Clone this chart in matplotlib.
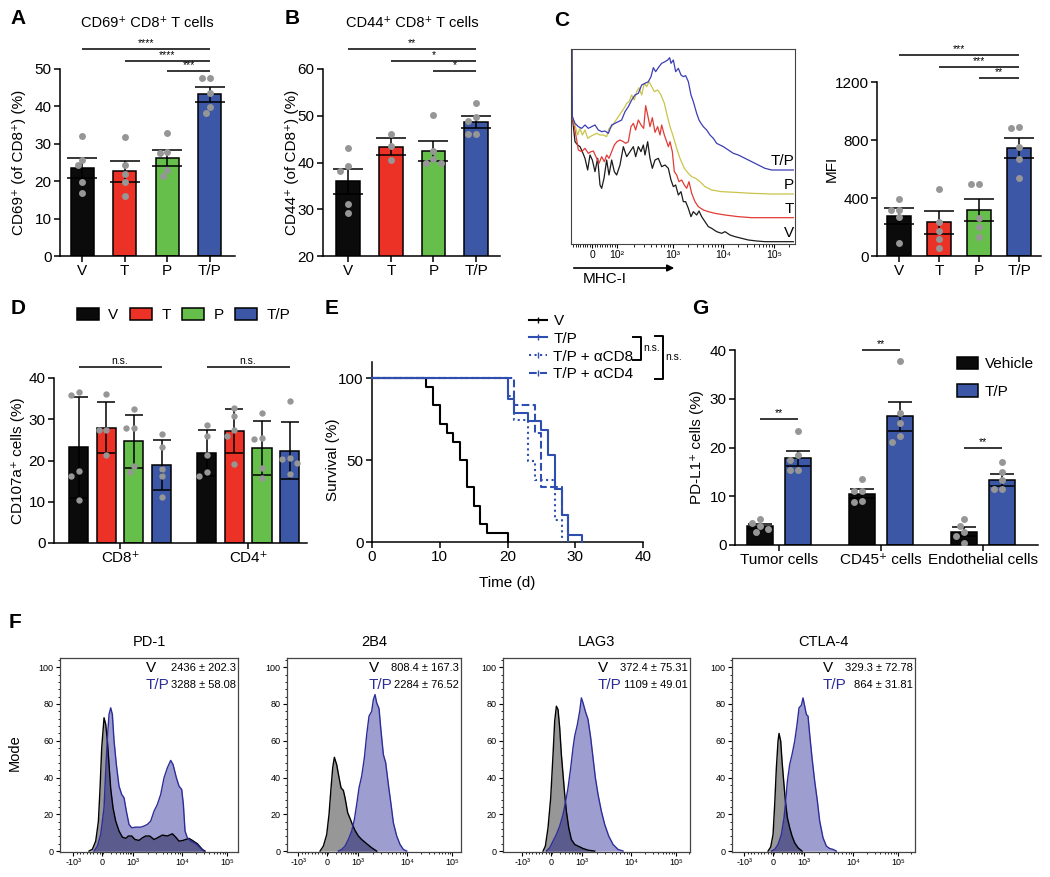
import numpy as np
import matplotlib
matplotlib.use('Agg')
import matplotlib.pyplot as plt
from matplotlib.lines import Line2D
from matplotlib.patches import Patch
from matplotlib.ticker import MultipleLocator, FixedLocator

plt.rcParams['font.family'] = ['Liberation Sans', 'DejaVu Sans']
plt.rcParams['axes.linewidth'] = 1.1

# ======================= DATA =======================
GROUPS = ['V', 'T', 'P', 'T/P']
GROUP_COLORS = ['#0b0b0b', '#ec3226', '#66bf4a', '#3b57a6']
DOT_COLOR = '#969696'

# Panel A
A_MEAN = [23.5, 22.6, 26.2, 43.2]
A_SEM = [2.7, 2.7, 2.1, 2.0]
A_POINTS = [[32.0, 25.8, 24.2, 19.8, 16.9],
            [31.9, 24.2, 21.9, 19.9, 16.0],
            [32.8, 27.7, 27.5, 23.0, 21.4],
            [47.5, 47.5, 43.7, 39.8, 38.3]]
A_SIG = ['****', '****', '***']

# Panel B
B_MEAN = [36.0, 43.4, 42.5, 48.6]
B_SEM = [2.7, 1.8, 2.1, 1.3]
B_POINTS = [[43.0, 39.3, 38.2, 31.2, 29.3],
            [46.2, 43.5, 40.5],
            [50.2, 42.5, 40.8, 40.0, 40.0],
            [52.8, 49.8, 48.9, 46.0, 46.0]]
B_SIG = ['**', '*', '*']

# Panel C (MFI bars)
MFI_MEAN = [275, 232, 316, 745]
MFI_SEM = [53, 80, 76, 69]
MFI_POINTS = [[392, 316, 316, 266, 87],
              [461, 236, 174, 115, 53],
              [498, 498, 259, 202, 133],
              [888, 883, 752, 670, 539]]
MFI_SIG = ['***', '***', '**']

# Panel C (MHC-I offset histograms; x = display channel, y = counts)
C_LABELS = ['V', 'T', 'P', 'T/P']
C_COLORS = ['#1b1b1b', '#e23b35', '#c9c44b', '#3b3db5']
C_V_X = [0, 4, 12, 20, 27, 34, 42, 50, 57, 64, 72, 80, 87, 92, 99, 107, 114, 122, 130, 137, 147,
         157, 167, 177, 187, 194, 202, 210, 217, 222, 230, 237, 244, 252, 262, 272, 282, 292, 300,
         307, 314, 322, 330, 337, 344, 352, 360, 367, 377, 384, 392, 402, 412, 422, 437, 452, 462,
         477, 492, 512, 532, 557, 582, 622, 667]
C_V_N = [1000, 375, 300, 290, 285, 270, 250, 215, 260, 245, 210, 250, 170, 160, 190, 245, 200, 245,
         210, 200, 230, 285, 255, 270, 285, 255, 285, 270, 290, 260, 300, 250, 220, 245, 250, 225,
         230, 220, 185, 165, 170, 140, 150, 120, 120, 100, 75, 90, 80, 92, 75, 60, 45, 40, 30, 25,
         30, 20, 15, 10, 5, 2, 0, 0, 0]
C_T_X = [0, 4, 12, 22, 32, 42, 52, 60, 67, 77, 84, 92, 100, 107, 114, 122, 130, 138, 147, 157, 164,
         172, 180, 187, 194, 202, 210, 218, 224, 230, 237, 244, 252, 260, 267, 272, 280, 287, 292,
         297, 304, 310, 317, 324, 332, 340, 347, 354, 362, 372, 382, 397, 412, 432, 462, 502, 542,
         602, 667]
C_T_N = [1000, 303, 263, 203, 198, 208, 193, 198, 200, 178, 163, 183, 168, 188, 178, 198, 218, 228,
         233, 228, 223, 228, 273, 283, 263, 293, 278, 268, 336, 308, 273, 300, 256, 273, 248, 278,
         248, 228, 213, 228, 198, 138, 128, 108, 113, 98, 88, 108, 73, 48, 33, 23, 18, 13, 8, 3,
         0, 0, 0]
C_P_X = [0, 4, 12, 20, 27, 34, 42, 50, 57, 67, 77, 87, 97, 107, 114, 122, 132, 142, 152, 162, 167,
         174, 182, 190, 197, 204, 212, 220, 227, 234, 242, 250, 260, 270, 280, 287, 297, 307, 317,
         327, 340, 352, 362, 374, 387, 402, 422, 452, 492, 542, 602, 667]
C_P_N = [1000, 232, 207, 177, 197, 177, 192, 167, 172, 177, 182, 177, 177, 172, 197, 202, 217, 232,
         247, 262, 272, 277, 297, 282, 307, 319, 297, 332, 322, 337, 322, 307, 312, 297, 272, 242,
         202, 172, 137, 107, 77, 62, 52, 47, 37, 22, 12, 7, 5, 2, 0, 0]
C_TP_X = [0, 4, 12, 22, 32, 42, 52, 62, 72, 82, 92, 102, 112, 122, 132, 142, 152, 162, 172, 182,
          192, 202, 212, 222, 232, 240, 247, 254, 264, 272, 282, 290, 296, 300, 307, 314, 322, 330,
          337, 344, 352, 360, 367, 377, 384, 390, 397, 407, 417, 427, 437, 447, 457, 472, 487, 502,
          522, 542, 562, 582, 602, 667]
C_TP_N = [1000, 160, 140, 130, 125, 135, 125, 130, 135, 120, 115, 117, 110, 135, 140, 145, 150, 175,
          190, 210, 225, 230, 255, 260, 265, 280, 307, 295, 310, 320, 325, 330, 337, 320, 330, 295,
          305, 285, 280, 283, 265, 225, 205, 170, 150, 140, 130, 120, 105, 95, 80, 75, 70, 60, 50,
          45, 35, 25, 15, 5, 0, 0]
C_TICK_LABELS = ['0', '10²', '10³', '10⁴', '10⁵']

# Panel D
D_CELLS = ['CD8⁺', 'CD4⁺']
D_MEAN = [[23.2, 28.0, 24.7, 18.9], [21.8, 27.1, 23.0, 22.4]]
D_SD = [[12.3, 6.2, 6.4, 6.0], [5.5, 5.3, 6.5, 6.9]]
D_POINTS = [[[36.7, 35.9, 17.5, 16.3, 10.4], [36.2, 27.3, 27.3, 21.4],
             [32.4, 27.9, 27.8, 18.7, 17.3], [26.4, 23.2, 18.0, 16.2, 11.2]],
            [[28.7, 25.9, 21.4, 17.3, 16.3], [32.7, 30.8, 27.3, 26.0, 19.1],
             [31.4, 25.5, 25.3, 18.3, 15.7], [34.4, 20.6, 20.3, 19.5, 16.7]]]

# Panel E (Kaplan-Meier)
E_LABELS = ['V', 'T/P', 'T/P + αCD8', 'T/P + αCD4']
E_V_T = [0, 8, 9, 10, 11, 12, 13, 14, 15, 16, 17, 20]
E_V_S = [100, 94.4, 83.3, 72.2, 66.7, 61.1, 50.0, 33.3, 22.2, 11.1, 5.6, 0]
E_TP_T = [0, 20, 21, 23, 25, 26, 27, 28, 29, 31]
E_TP_S = [100, 87.5, 78.7, 73.6, 68.5, 52.8, 32.5, 16.3, 4.5, 0]
E_CD8_T = [0, 20, 21, 23, 24, 27, 28]
E_CD8_S = [100, 88.9, 74.6, 49.2, 37.6, 13.6, 0]
E_CD4_T = [0, 21, 24, 25, 28, 29]
E_CD4_S = [100, 83.3, 66.7, 33.3, 16.7, 0]

# Panel G
G_CELLS = ['Tumor cells', 'CD45⁺ cells', 'Endothelial cells']
G_LABELS = ['Vehicle', 'T/P']
G_COLORS = ['#0b0b0b', '#3b57a6']
G_MEAN = [[3.8, 10.5, 2.7], [17.8, 26.4, 13.4]]
G_SEM = [[0.5, 0.9, 0.9], [1.5, 3.0, 1.2]]
G_POINTS = [[[5.3, 4.5, 3.9, 3.2, 2.7], [13.6, 11.0, 11.0, 9.1, 8.9], [5.3, 4.0, 2.7, 1.8, 0.5]],
            [[23.3, 18.5, 17.5, 15.4, 15.4], [37.7, 27.1, 25.1, 22.3, 21.2],
             [17.1, 14.9, 13.4, 11.4, 11.4]]]
G_SIG = ['**', '**', '**']

# Panel F (flow histograms; x = display channel relative to 0, y = % of mode)
F_MARKERS = ['PD-1', '2B4', 'LAG3', 'CTLA-4']
F_STATS_V = ['2436 ± 202.3', '808.4 ± 167.3', '372.4 ± 75.31', '329.3 ± 72.78']
F_STATS_TP = ['3288 ± 58.08', '2284 ± 76.52', '1109 ± 49.01', '864 ± 31.81']
F_TICK_LABELS = ['-10³', '0', '10³', '10⁴', '10⁵']
PD1_V_X = [-38, -28, -18, -10, -5, 0, 7, 12, 17, 22, 27, 34, 42, 52, 62, 72, 80, 90, 100, 112, 122,
           132, 144, 157, 167, 182, 197, 212, 222, 232, 244, 262, 272, 287, 302, 310]
PD1_V_Y = [0, 1, 5.4, 16, 34, 56, 72.5, 69, 60, 47, 34, 23.5, 16.3, 10.9, 7.6, 6.9, 8.2, 8.2, 6.3,
           5.8, 7.2, 8.2, 8.2, 6.3, 7.2, 8.7, 8.2, 9.4, 7.6, 5.4, 5.8, 6.9, 5.8, 4, 0.9, 0]
PD1_TP_X = [-23, -13, -3, 7, 12, 17, 22, 27, 32, 37, 44, 52, 60, 67, 74, 82, 90, 102, 117, 127, 137,
            147, 157, 167, 177, 187, 197, 207, 214, 224, 232, 240, 245, 250, 257, 267, 277, 287,
            297, 307]
PD1_TP_Y = [0, 2.7, 9, 23.5, 43.5, 61.6, 74.3, 77.9, 74.3, 60, 47, 35.3, 30.8, 29, 21.7, 14.5, 12.7,
            13, 13, 13.6, 14.5, 16.3, 21.7, 25.4, 30.8, 39.9, 45.3, 49.3, 47.1, 39.9, 35.3, 33.5,
            25.4, 10.9, 7.2, 5.4, 4.5, 3.3, 1.4, 0]
B4_V_X = [-20, -10, 0, 7, 13, 18, 23, 30, 37, 43, 50, 55, 63, 70, 77, 85, 95, 105, 120, 135, 150]
B4_V_Y = [0, 2.7, 9, 20, 34.4, 45.3, 51, 47, 40, 34.4, 33, 29, 20.8, 17.8, 14.5, 11.2, 8.2, 6.3, 4,
          1.8, 0]
B4_TP_X = [35, 45, 55, 65, 75, 83, 90, 97, 105, 113, 120, 127, 135, 140, 145, 150, 157, 163, 170,
           177, 185, 193, 200, 210, 220, 230, 240]
B4_TP_Y = [0, 0.9, 2.7, 6.3, 10.9, 17.2, 25.4, 34.4, 40.8, 50.7, 63.4, 73.4, 76, 82.4, 85.1, 80.6,
           77.5, 65.2, 52.5, 48, 36.2, 25.4, 15.4, 8.2, 3.6, 0.9, 0]
LAG3_V_X = [-23, -16, -8, 0, 7, 12, 17, 22, 27, 32, 37, 42, 47, 54, 62, 72, 82, 97, 112, 132]
LAG3_V_Y = [0, 2.7, 12.7, 29, 52.5, 70.7, 78.8, 77, 67, 52.5, 41.7, 30.8, 21.7, 12.7, 6.3, 3.6, 2.7,
            1.4, 0.5, 0]
LAG3_TP_X = [-13, -3, 7, 17, 27, 37, 45, 52, 60, 67, 72, 80, 87, 92, 97, 104, 112, 120, 127, 134,
             142, 152, 162, 174, 187, 202, 217]
LAG3_TP_Y = [0, 1.8, 5.4, 9, 13.6, 19.9, 27.2, 34.4, 45.3, 56.2, 62.5, 68.8, 76, 83.3, 80.6, 76,
             71.6, 61.6, 50.7, 39.9, 30.8, 21.7, 14.5, 8.2, 3.6, 0.9, 0]
CTLA_V_X = [-14, -6, 1, 6, 11, 16, 19, 24, 28, 33, 38, 44, 51, 58, 66, 76, 88]
CTLA_V_Y = [0, 2.2, 9, 25.4, 45.3, 59.8, 64, 59.8, 48.9, 38, 27.2, 18.1, 12.7, 8.2, 4.5, 1.8, 0]
CTLA_TP_X = [-4, 6, 16, 26, 34, 39, 44, 51, 58, 66, 73, 79, 86, 91, 96, 101, 106, 111, 118, 126, 134,
             141, 151, 161, 171, 181, 191]
CTLA_TP_Y = [0, 0.9, 3.6, 9, 18.1, 27.2, 38, 47.1, 52.5, 59.8, 68.8, 77.9, 79.3, 83.3, 78.8, 74.3,
             73.4, 63.4, 50.7, 38, 27.2, 16.3, 7.2, 2.7, 1.4, 0.9, 0]

# ======================= FIGURE =======================
W, H = 1050, 877
fig = plt.figure(figsize=(W / 100, H / 100), dpi=100)


def fx(x):
    return x / W


def fy(y):
    return 1 - y / H


def add_ax(l, t, r, b):
    return fig.add_axes([l / W, 1 - b / H, (r - l) / W, (b - t) / H])


def style(ax, fs=11):
    for s in ['top', 'right']:
        ax.spines[s].set_visible(False)
    ax.tick_params(direction='out', length=4, width=1.1, labelsize=fs, pad=2)


def swarm(vals, px_x, px_y, dot=7.0):
    placed, offs = [], []
    for v in vals:
        o = 0.0
        for k in [0, -1, 1, -2, 2, -3, 3]:
            o = k * 0.55 * dot
            if all(np.hypot(o - po, (v - pv) * px_y) >= 0.95 * dot for po, pv in placed):
                break
        placed.append((o, v))
        offs.append(o / px_x)
    return np.array(offs)


def bars(ax, xs, means, errs, pts, colors, width, cap, px_x, px_y, dot_s=25):
    ax.bar(xs, means, width, color=colors, edgecolor='black', linewidth=1.1, zorder=2)
    ax.errorbar(xs, means, yerr=errs, fmt='none', ecolor='black', elinewidth=1.1,
                capsize=cap, capthick=1.1, zorder=3)
    for x, vals in zip(xs, pts):
        off = swarm(vals, px_x, px_y)
        ax.scatter(x + off, vals, s=dot_s, color=DOT_COLOR, linewidths=0, zorder=4)


def sig(ax, x1, x2, y, text, fs=7.5):
    ax.plot([x1, x2], [y, y], color='black', lw=1.1, clip_on=False, solid_capstyle='butt')
    ax.annotate(text, ((x1 + x2) / 2, y), xytext=(0, 0.5), textcoords='offset points',
                ha='center', va='bottom', fontsize=fs, annotation_clip=False)


def letter(x, y, s):
    fig.text(fx(x), fy(y), s, fontsize=15, fontweight='bold', ha='center', va='center')


# ---------- A ----------
axA = add_ax(60, 69, 235, 256)
style(axA)
xs = np.arange(4)
bars(axA, xs, A_MEAN, A_SEM, A_POINTS, GROUP_COLORS, 0.54, 11, 42.7, 3.74)
axA.set_xlim(-0.52, 3.59)
axA.set_ylim(0, 50)
axA.set_yticks(range(0, 51, 10))
axA.set_xticks(xs)
axA.set_xticklabels(GROUPS)
axA.set_ylabel('CD69⁺ (of CD8⁺) (%)', fontsize=11)
axA.yaxis.set_label_coords(-0.194, 0.5)
for i, (yv, s) in enumerate(zip([55.3, 52.1, 49.5], A_SIG)):
    sig(axA, i, 3, yv, s)
fig.text(fx(147), fy(23), 'CD69⁺ CD8⁺ T cells', fontsize=10.5, ha='center', va='center')
letter(18, 18, 'A')

# ---------- B ----------
axB = add_ax(323, 69, 500, 256)
style(axB)
bars(axB, xs, B_MEAN, B_SEM, B_POINTS, GROUP_COLORS, 0.56, 11, 42.7, 4.675)
axB.set_xlim(-0.59, 3.56)
axB.set_ylim(20, 60)
axB.set_yticks(range(20, 61, 10))
axB.set_xticks(xs)
axB.set_xticklabels(GROUPS)
axB.set_ylabel('CD44⁺ (of CD8⁺) (%)', fontsize=11)
axB.yaxis.set_label_coords(-0.136, 0.5)
for i, (yv, s) in enumerate(zip([64.3, 61.7, 59.6], B_SIG)):
    sig(axB, i, 3, yv, s)
fig.text(fx(412), fy(23), 'CD44⁺ CD8⁺ T cells', fontsize=10.5, ha='center', va='center')
letter(292, 18, 'B')

# ---------- C histogram ----------
axH = add_ax(571, 49, 795, 244)
C_OFFSETS = [7, 79, 150, 222]
for xv, nv, off, col, lab in zip([C_V_X, C_T_X, C_P_X, C_TP_X], [C_V_N, C_T_N, C_P_N, C_TP_N],
                                 C_OFFSETS, C_COLORS, C_LABELS):
    axH.plot(xv, np.array(nv) + off, color=col, lw=0.9)
    axH.text(669, off + 26, lab, ha='right', va='center', fontsize=11)
axH.set_xlim(0, 672)
axH.set_ylim(0, 585)
axH.set_yticks([])
c_major = [63, 138, 306, 456, 609]
axH.set_xticks(c_major)
axH.set_xticklabels(C_TICK_LABELS, fontsize=7.5)
c_minor = [63 - 7 * k for k in range(1, 9)] + [63 + 7.5 * k for k in range(1, 10)]
for a, b in [(138, 306), (306, 456), (456, 609), (609, 762)]:
    c_minor += [a + (b - a) * np.log10(k) for k in range(2, 10)]
c_minor = [c for c in c_minor if 0 < c < 672]
axH.xaxis.set_minor_locator(FixedLocator(c_minor))
axH.tick_params(axis='x', which='major', length=3, width=0.8, pad=1.5)
axH.tick_params(axis='x', which='minor', length=1.8, width=0.6)
for s in axH.spines.values():
    s.set_linewidth(0.8)
    s.set_color('#444444')
axH.annotate('', xy=(677, H - 268), xytext=(571, H - 268), xycoords='figure pixels',
             textcoords='figure pixels',
             arrowprops=dict(arrowstyle='-|>', lw=1.2, color='black', mutation_scale=10))
fig.text(fx(583), fy(279), 'MHC-I', fontsize=11, ha='left', va='center')
letter(562, 20, 'C')

# ---------- C MFI ----------
axM = add_ax(877, 82, 1041, 256)
style(axM)
bars(axM, xs, MFI_MEAN, MFI_SEM, MFI_POINTS, GROUP_COLORS, 0.6, 11, 40, 0.145)
axM.set_xlim(-0.55, 3.55)
axM.set_ylim(0, 1200)
axM.set_yticks([0, 400, 800, 1200])
axM.set_xticks(xs)
axM.set_xticklabels(GROUPS)
axM.set_ylabel('MFI', fontsize=11)
axM.yaxis.set_label_coords(-0.232, 0.5)
for i, (yv, s) in enumerate(zip([1386, 1303, 1228], MFI_SIG)):
    sig(axM, i, 3, yv, s)

# ---------- D ----------
axD = add_ax(54, 378, 307, 543)
style(axD)
d_off = (np.arange(4) - 1.5) * 0.216
for g in range(2):
    bars(axD, g + d_off, D_MEAN[g], D_SD[g], D_POINTS[g], GROUP_COLORS, 0.15, 6.5, 128, 4.12,
         dot_s=21)
    sig(axD, g + d_off[0], g + d_off[3], 42.7, 'n.s.', fs=7.5)
axD.set_xlim(-0.516, 1.46)
axD.set_ylim(0, 40)
axD.set_yticks(range(0, 41, 10))
axD.set_xticks([0, 1])
axD.set_xticklabels(D_CELLS)
axD.set_ylabel('CD107a⁺ cells (%)', fontsize=11)
axD.yaxis.set_label_coords(-0.115, 0.5)
fig.legend([Patch(facecolor=c, edgecolor='black', linewidth=1.1) for c in GROUP_COLORS], GROUPS,
           ncol=4, loc='center left', bbox_to_anchor=(fx(77), fy(315)), frameon=False,
           fontsize=11, handlelength=1.45, handleheight=0.85, handletextpad=0.6,
           columnspacing=0.75, borderpad=0, borderaxespad=0)
letter(18, 308, 'D')

# ---------- E ----------
axE = add_ax(372, 361.6, 643, 542)
style(axE)
e_series = [(E_V_T, E_V_S, 'black', '-'), (E_TP_T, E_TP_S, '#2f4fb0', '-'),
            (E_CD8_T, E_CD8_S, '#2f4fb0', ':'), (E_CD4_T, E_CD4_S, '#2f4fb0', '--')]
handles = []
for (t, s, c, ls), lab in zip(e_series, E_LABELS):
    axE.step(t, s, where='post', color=c, ls=ls, lw=1.5, clip_on=False, zorder=3)
    handles.append(Line2D([], [], color=c, ls=ls, lw=1.5, marker='|', markersize=4,
                          markeredgewidth=1.0))
axE.set_xlim(0, 40)
axE.set_ylim(0, 110)
axE.set_yticks([0, 50, 100])
axE.set_xticks(range(0, 41, 10))
axE.set_ylabel('Survival (%)', fontsize=11)
axE.yaxis.set_label_coords(-0.118, 100 / 220)
axE.set_xlabel('Time (d)', fontsize=11)
axE.xaxis.set_label_coords(0.5, -0.19)
axE.legend(handles, E_LABELS, loc='upper left', bbox_to_anchor=(fx(529), fy(314)),
           bbox_transform=fig.transFigure, frameon=False, fontsize=11, handlelength=1.15,
           handletextpad=0.45, labelspacing=0.25, borderpad=0, borderaxespad=0)
for xb, y1, y2, xt, yt in [(641, 337, 360, 643, 348), (663, 336, 379, 665, 357)]:
    fig.add_artist(Line2D([fx(xb - 8), fx(xb), fx(xb), fx(xb - 8)],
                          [fy(y1), fy(y1), fy(y2), fy(y2)], color='black', lw=1.4))
    fig.text(fx(xt), fy(yt), 'n.s.', fontsize=7.5, ha='left', va='center')
letter(332, 308, 'E')

# ---------- G ----------
axG = add_ax(735, 350, 1038, 545)
style(axG)
g_off = [-0.186, 0.186]
gx = np.arange(3)
for k in range(2):
    bars(axG, gx + g_off[k], G_MEAN[k], G_SEM[k], G_POINTS[k], [G_COLORS[k]] * 3, 0.26, 8.5,
         102, 4.875)
for i, (yv, s) in enumerate(zip([25.8, 40.1, 19.9], G_SIG)):
    sig(axG, i + g_off[0], i + g_off[1], yv, s)
axG.set_xlim(-0.43, 2.54)
axG.set_ylim(0, 40)
axG.set_yticks(range(0, 41, 10))
axG.set_xticks(gx)
axG.set_xticklabels(G_CELLS)
axG.set_ylabel('PD-L1⁺ cells (%)', fontsize=11)
axG.yaxis.set_label_coords(-0.102, 0.5)
axG.legend([Patch(facecolor=c, edgecolor='black', linewidth=1.1) for c in G_COLORS], G_LABELS,
           loc='upper left', bbox_to_anchor=(fx(957), fy(357)), bbox_transform=fig.transFigure,
           frameon=False, fontsize=11, handlelength=1.4, handleheight=0.85, handletextpad=0.4,
           labelspacing=0.85, borderpad=0, borderaxespad=0)
letter(700, 308, 'G')

# ---------- F ----------
f_curves = [(PD1_V_X, PD1_V_Y, PD1_TP_X, PD1_TP_Y), (B4_V_X, B4_V_Y, B4_TP_X, B4_TP_Y),
            (LAG3_V_X, LAG3_V_Y, LAG3_TP_X, LAG3_TP_Y), (CTLA_V_X, CTLA_V_Y, CTLA_TP_X, CTLA_TP_Y)]
f_boxes = [(60, 238, 101.7), (287, 461, 326.7), (503, 690, 550.7), (732, 915, 772.7)]
f_major = [-85, 0, 93, 242, 376]
f_minor = [-85 + 10 * k for k in range(1, 8)] + [-4, 4]
for a, b in [(93, 242), (242, 376), (376, 510)]:
    f_minor += [a + (b - a) * np.log10(k) for k in range(2, 10)]
f_minor += [93 * np.log10(k) for k in range(2, 10)]
for i, ((vx, vy, tx, ty), (l, r, z)) in enumerate(zip(f_curves, f_boxes)):
    ax = add_ax(l, 658, r, 852)
    ax.fill_between(vx, vy, color='#979797', lw=0, zorder=1)
    ax.fill_between(tx, ty, color='#9d9dd0', lw=0, zorder=2)
    grid = np.linspace(min(vx[0], tx[0]), max(vx[-1], tx[-1]), 800)
    ov = np.minimum(np.interp(grid, vx, vy, left=0, right=0),
                    np.interp(grid, tx, ty, left=0, right=0))
    ax.fill_between(grid, ov, color='#5b5b8d', lw=0, zorder=3)
    ax.plot(vx, vy, color='black', lw=1.0, zorder=4)
    ax.plot(tx, ty, color='#2c2c9a', lw=1.0, zorder=4)
    ax.set_xlim((l - z) * 3, (r - z) * 3)
    ax.set_ylim(-0.5, 105)
    ax.set_yticks(range(0, 101, 20))
    ax.yaxis.set_minor_locator(MultipleLocator(4))
    ax.set_xticks(f_major)
    ax.set_xticklabels(F_TICK_LABELS)
    ax.xaxis.set_minor_locator(FixedLocator(f_minor))
    ax.tick_params(which='major', length=3, width=0.8, labelsize=6.5, pad=1.5)
    ax.tick_params(which='minor', length=1.6, width=0.6)
    for s in ax.spines.values():
        s.set_linewidth(0.9)
        s.set_color('#444444')
    wpx = r - l
    ax.text(1 - 92 / wpx, 0.948, 'V', transform=ax.transAxes, fontsize=11, ha='left',
            va='center', color='black')
    ax.text(1 - 92 / wpx, 0.861, 'T/P', transform=ax.transAxes, fontsize=11, ha='left',
            va='center', color='#2c2c9a')
    ax.text(1 - 2 / wpx, 0.948, F_STATS_V[i], transform=ax.transAxes, fontsize=8, ha='right',
            va='center')
    ax.text(1 - 2 / wpx, 0.861, F_STATS_TP[i], transform=ax.transAxes, fontsize=8, ha='right',
            va='center')
    fig.text(fx((l + r) / 2), fy(642), F_MARKERS[i], fontsize=10.5, ha='center', va='center')
fig.text(fx(15), fy(753), 'Mode', fontsize=10.5, rotation=90, ha='center', va='center')
letter(15, 623, 'F')

fig.savefig('out.png', dpi=100)
